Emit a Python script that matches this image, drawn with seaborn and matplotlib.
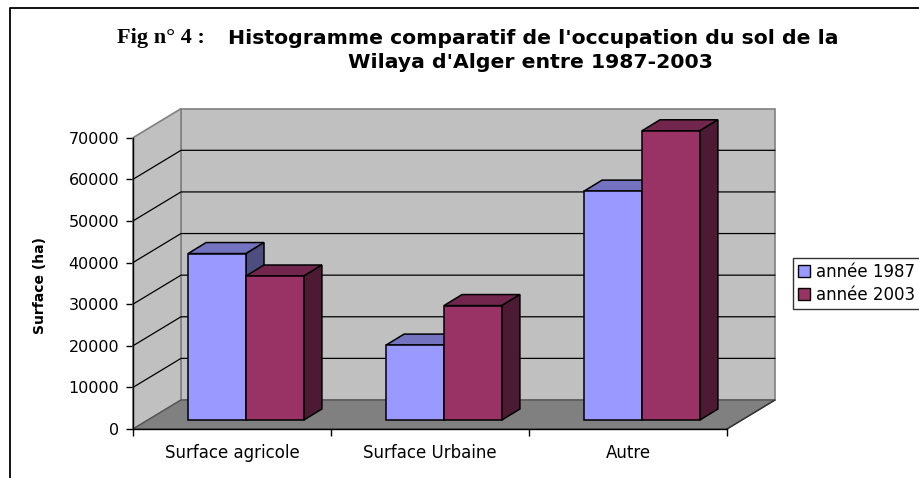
#!/usr/bin/env python3

import numpy as np
import matplotlib
matplotlib.use('Agg')
import matplotlib.pyplot as plt
from matplotlib.patches import Polygon, Patch
from matplotlib.lines import Line2D
import seaborn as sns
import pandas as pd

# data (ha)
categories = ['Surface agricole', 'Surface Urbaine', 'Autre']
years = ['année 1987', 'année 2003']
surf_1987 = [40000, 18000, 55000]
surf_2003 = [34600, 27500, 69500]
y_ticks = [0, 10000, 20000, 30000, 40000, 50000, 60000, 70000]

# colours (front, top, side)
blue = ('#9999ff', '#7373bf', '#4d4d80')
red = ('#993366', '#73264d', '#4d1a33')
wall_c = '#c0c0c0'
floor_c = '#808080'

W, H = 919, 478
sns.set_style('white')
plt.rcParams['font.family'] = ['DejaVu Sans']
plt.rcParams['text.color'] = 'black'
plt.rcParams['xtick.color'] = 'black'
plt.rcParams['ytick.color'] = 'black'
plt.rcParams['axes.labelcolor'] = 'black'

fig = plt.figure(figsize=(W / 100, H / 100), dpi=100)
# front plane of the 3d box, in pixels: x 133..727, y 429 (0) .. 137.7 (70000)
ax = fig.add_axes([133 / W, (H - 429) / H, 594 / W, (429 - 137.7) / H])

df = pd.DataFrame({
    'cat': categories * 2,
    'year': [years[0]] * 3 + [years[1]] * 3,
    'surface': surf_1987 + surf_2003,
})

sns.barplot(data=df, x='cat', y='surface', hue='year', order=categories,
            hue_order=years, palette=[blue[0], red[0]], width=0.585,
            edgecolor='black', linewidth=1.1, saturation=1, legend=False,
            ax=ax)

ax.set_xlim(-0.5, 2.5)
ax.set_ylim(0, 70000)


def px(dx, dy):
    # pixel offset -> data offset (linear axes)
    inv = ax.transData.inverted()
    x0, y0 = inv.transform((0, 0))
    x1, y1 = inv.transform((dx, dy))
    return x1 - x0, y1 - y0


wx, wy = px(48, 29)      # depth of the whole box
bx0, by0 = px(14, 9)     # front face of the bars
bx1, by1 = px(18, 11)    # bar depth

bars = list(ax.patches)

# walls and floor
x_lo, x_hi = -0.5, 2.5
ymax = 70000
back = Polygon([(x_lo + wx, wy), (x_hi + wx, wy), (x_hi + wx, ymax + wy),
                (x_lo + wx, ymax + wy)], closed=True, facecolor=wall_c,
               edgecolor='#808080', lw=1.2, zorder=0.5, clip_on=False)
side = Polygon([(x_lo, 0), (x_lo + wx, wy), (x_lo + wx, ymax + wy),
                (x_lo, ymax)], closed=True, facecolor=wall_c,
               edgecolor='#808080', lw=1.2, zorder=0.6, clip_on=False)
floor = Polygon([(x_lo, 0), (x_hi, 0), (x_hi + wx, wy), (x_lo + wx, wy)],
                closed=True, facecolor=floor_c, edgecolor='#555555', lw=1.0,
                zorder=0.7, clip_on=False)
for p in (back, side, floor):
    ax.add_patch(p)

for v in y_ticks[1:-1]:
    ax.plot([x_lo, x_lo + wx, x_hi + wx], [v, v + wy, v + wy], color='black',
            lw=0.9, zorder=0.8, clip_on=False)

# 3d faces on top of seaborn's bars (hue-major order: blue bars, then red)
z = 3.0
for i, bar in enumerate(bars):
    x, w, h = bar.get_x(), bar.get_width(), bar.get_height()
    if h == 0:
        continue
    cols = blue if i < len(categories) else red
    x0, y0 = x + bx0, by0
    bar.set_x(x0)
    bar.set_y(y0)
    bar.set_clip_on(False)
    bar.set_zorder(z + 0.02)
    top = Polygon([(x0, y0 + h), (x0 + w, y0 + h), (x0 + w + bx1, y0 + h + by1),
                   (x0 + bx1, y0 + h + by1)], closed=True, facecolor=cols[1],
                  edgecolor='black', lw=1.1, zorder=z, clip_on=False)
    sd = Polygon([(x0 + w, y0), (x0 + w + bx1, y0 + by1),
                  (x0 + w + bx1, y0 + h + by1), (x0 + w, y0 + h)], closed=True,
                 facecolor=cols[2], edgecolor='black', lw=1.1, zorder=z + 0.01,
                 clip_on=False)
    ax.add_patch(top)
    ax.add_patch(sd)
    z += 0.1

# axes cosmetics
ax.patch.set_visible(False)
for s in ('top', 'right'):
    ax.spines[s].set_visible(False)
for s in ('left', 'bottom'):
    ax.spines[s].set_color('black')
    ax.spines[s].set_linewidth(1.0)
    ax.spines[s].set_zorder(5)
ax.plot([x_hi, x_hi + wx], [0, wy], color='#333333', lw=1.0, clip_on=False,
        zorder=5)

ax.set_yticks(y_ticks)
ax.set_yticklabels([str(v) for v in y_ticks], fontsize=11.5)
ax.tick_params(axis='y', direction='out', length=5, width=1, color='black',
               labelcolor='black', pad=5, left=True)
ax.set_xticks(range(len(categories)))
ax.set_xticklabels(categories, fontsize=12)
ax.set_xticks([-0.5, 0.5, 1.5, 2.5], minor=True)
ax.tick_params(axis='x', which='major', length=0, pad=11, labelcolor='black')
ax.tick_params(axis='x', which='minor', direction='out', length=5, width=1,
               color='black', bottom=True)
ax.set(xlabel=None, ylabel=None)
ax.grid(False)

fig.text(40 / W, 1 - 286 / H, 'Surface (ha)', rotation=90, fontsize=10,
         fontweight='bold', ha='center', va='center', color='black')

# titles
fig.text(117 / W, 1 - 38 / H, 'Fig n° 4 :', family='Liberation Serif',
         fontweight='bold', fontsize=16, ha='left', va='center',
         color='black')
fig.text(228 / W, 1 - 38 / H,
         "Histogramme comparatif de l'occupation du sol de la",
         fontsize=14.7, fontweight='bold', ha='left', va='center',
         color='black')
fig.text(530 / W, 1 - 63 / H, "Wilaya d'Alger entre 1987-2003",
         fontsize=14.7, fontweight='bold', ha='center', va='center',
         color='black')

# legend
handles = [Patch(facecolor=blue[0], edgecolor='black', lw=1),
           Patch(facecolor=red[0], edgecolor='black', lw=1)]
leg = fig.legend(handles, years, loc='upper left',
                 bbox_to_anchor=(793 / W, 1 - 258 / H), fontsize=12,
                 frameon=True, fancybox=False, handlelength=0.7,
                 handleheight=0.7, handletextpad=0.4, borderpad=0.3,
                 labelspacing=0.3, borderaxespad=0, labelcolor='black')
leg.get_frame().set_edgecolor('black')
leg.get_frame().set_linewidth(1)

# outer frame of the chart
fig.add_artist(Line2D([10 / W, 10 / W, 1.0], [0.0, 1 - 8 / H, 1 - 8 / H],
                      transform=fig.transFigure, color='black', lw=1.3))

fig.savefig('out.png', dpi=100)
plt.close(fig)
